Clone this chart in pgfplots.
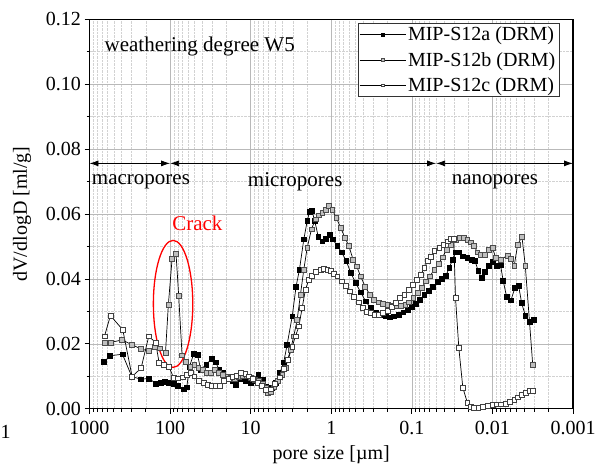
\documentclass[border=0pt]{standalone}
\usepackage{fontspec}
\setmainfont{Liberation Serif}
\usepackage{pgfplots}
\usepackage{pgfplotstable}
\pgfplotsset{compat=1.18}
\usetikzlibrary{arrows.meta}

\pgfplotstableread{
D V
658 0.0145
555 0.0163
390 0.0168
298.5 0.0099
231 0.0091
182 0.0093
151 0.0078
131 0.0080
116 0.0083
103 0.0081
91.0 0.0076
79.6 0.0070
68.4 0.0060
62.1 0.0066
57.5 0.0130
50.7 0.0170
45.7 0.0166
41.7 0.0121
35.5 0.0136
30.4 0.0154
27.2 0.0143
24.7 0.0121
22.0 0.0110
19.3 0.0099
16.9 0.0085
15.3 0.0074
13.3 0.0092
11.5 0.0085
10.0 0.0079
9.10 0.0085
8.04 0.0105
7.16 0.0090
6.52 0.0069
5.93 0.0057
5.50 0.0064
4.90 0.0079
4.33 0.0110
3.89 0.0143
3.53 0.0197
3.05 0.0285
2.73 0.0377
2.48 0.0429
2.19 0.0522
1.99 0.0578
1.86 0.0607
1.73 0.0609
1.60 0.0578
1.45 0.0530
1.29 0.0516
1.18 0.0524
1.05 0.0537
0.953 0.0522
0.841 0.0501
0.743 0.0482
0.650 0.0455
0.574 0.0419
0.498 0.0388
0.432 0.0359
0.374 0.0331
0.324 0.0310
0.281 0.0297
0.243 0.0290
0.211 0.0285
0.186 0.0282
0.166 0.0285
0.147 0.0290
0.128 0.0297
0.113 0.0305
0.100 0.0314
0.0891 0.0324
0.0794 0.0336
0.0701 0.0350
0.0621 0.0364
0.0553 0.0376
0.0479 0.0390
0.0424 0.0400
0.0378 0.0410
0.0343 0.0434
0.0312 0.0460
0.0288 0.0482
0.0261 0.0482
0.0233 0.0470
0.0205 0.0465
0.0181 0.0460
0.0165 0.0457
0.0150 0.0424
0.0136 0.0403
0.0124 0.0421
0.0112 0.0441
0.0100 0.0452
0.00891 0.0441
0.00794 0.0444
0.00736 0.0395
0.00668 0.0346
0.00590 0.0334
0.00526 0.0372
0.00473 0.0379
0.00434 0.0326
0.00391 0.0287
0.00348 0.0269
0.00310 0.0274
}\dataA

\pgfplotstableread{
D V
652 0.0204
550 0.0204
394 0.0212
296 0.0197
229 0.0184
184 0.0178
156 0.0190
133 0.0186
114 0.0173
105 0.0321
94.4 0.0462
84.3 0.0477
78.2 0.0348
71.0 0.0165
63.4 0.0145
56.2 0.0130
50.1 0.0135
44.7 0.0125
39.7 0.0121
35.5 0.0110
31.3 0.0110
27.7 0.0119
24.7 0.0110
22.0 0.0105
19.5 0.0100
17.7 0.0095
15.6 0.0092
14.0 0.0098
12.4 0.0102
11.3 0.0100
10.0 0.0095
8.83 0.0090
7.89 0.0085
7.03 0.0077
6.52 0.0064
6.10 0.0050
5.65 0.0052
5.14 0.0066
4.58 0.0085
4.05 0.0105
3.70 0.0125
3.21 0.0181
2.92 0.0223
2.65 0.0274
2.41 0.0352
2.19 0.0429
1.99 0.0496
1.76 0.0553
1.57 0.0584
1.43 0.0596
1.29 0.0604
1.18 0.0612
1.07 0.0625
0.973 0.0614
0.867 0.0589
0.766 0.0558
0.676 0.0527
0.603 0.0501
0.537 0.0460
0.484 0.0439
0.432 0.0408
0.381 0.0377
0.333 0.0352
0.294 0.0336
0.260 0.0328
0.228 0.0324
0.201 0.0321
0.177 0.0318
0.155 0.0318
0.137 0.0318
0.121 0.0321
0.108 0.0328
0.0962 0.0341
0.0849 0.0357
0.0752 0.0372
0.0670 0.0393
0.0597 0.0408
0.0527 0.0429
0.0466 0.0447
0.0415 0.0467
0.0370 0.0491
0.0332 0.0506
0.0287 0.0520
0.0256 0.0527
0.0226 0.0527
0.0205 0.0520
0.0187 0.0513
0.0169 0.0503
0.0154 0.0482
0.0140 0.0475
0.0124 0.0475
0.0110 0.0491
0.0100 0.0496
0.00908 0.0465
0.00787 0.0460
0.00649 0.0472
0.00590 0.0462
0.00536 0.0441
0.00486 0.0506
0.00430 0.0530
0.00391 0.0441
0.00316 0.0135
}\dataB

\pgfplotstableread{
D V
652 0.0223
550 0.0287
386 0.0243
296 0.0099
229 0.0125
184 0.0223
151 0.0204
137 0.0142
119 0.0135
103 0.0130
91.0 0.0096
81.1 0.0094
70.3 0.0097
62.1 0.0104
55.5 0.0111
50.1 0.0100
43.7 0.0085
37.9 0.0079
34.4 0.0074
30.4 0.0071
27.2 0.0071
24.2 0.0071
21.4 0.0085
18.9 0.0092
16.9 0.0098
15.1 0.0102
13.3 0.0110
11.7 0.0108
10.5 0.0100
9.35 0.0092
8.26 0.0081
7.23 0.0070
6.44 0.0058
5.69 0.0060
5.02 0.0078
4.40 0.0097
3.88 0.0122
3.43 0.0151
3.05 0.0192
2.78 0.0223
2.52 0.0254
2.30 0.0310
2.09 0.0367
1.90 0.0398
1.73 0.0410
1.54 0.0421
1.36 0.0429
1.23 0.0431
1.12 0.0429
1.02 0.0424
0.927 0.0416
0.841 0.0408
0.743 0.0393
0.664 0.0379
0.592 0.0362
0.522 0.0346
0.461 0.0328
0.411 0.0310
0.366 0.0300
0.324 0.0295
0.286 0.0290
0.255 0.0290
0.228 0.0295
0.201 0.0303
0.177 0.0313
0.158 0.0326
0.141 0.0341
0.124 0.0352
0.110 0.0367
0.0982 0.0382
0.0875 0.0398
0.0773 0.0413
0.0701 0.0434
0.0638 0.0455
0.0579 0.0468
0.0527 0.0486
0.0457 0.0496
0.0407 0.0506
0.0360 0.0516
0.0327 0.0524
0.0302 0.0524
0.0287 0.0341
0.0261 0.0187
0.0233 0.0065
0.0205 0.0019
0.0187 0.0006
0.0169 0.0004
0.0150 0.0004
0.0133 0.0006
0.0115 0.0008
0.0100 0.0011
0.00891 0.0014
0.00787 0.0014
0.00681 0.0016
0.00607 0.0022
0.00536 0.0027
0.00486 0.0035
0.00430 0.0042
0.00383 0.0049
0.00348 0.0056
0.00316 0.0056
}\dataC

\begin{document}
\begin{tikzpicture}
\useasboundingbox (0,0) rectangle (605pt,464pt);
\begin{axis}[
  at={(89.5pt,55.3pt)}, anchor=south west,
  scale only axis, width=483.5pt, height=389.4pt,
  xmode=log, x dir=reverse, xmin=0.001, xmax=1000,
  ymin=0, ymax=0.12,
  xtick={1000,100,10,1,0.1,0.01,0.001},
  xticklabels={1000,100,10,1,0.1,0.01,0.001},
  minor xtick={0.002,0.003,0.004,0.005,0.006,0.007,0.008,0.009,
    0.02,0.03,0.04,0.05,0.06,0.07,0.08,0.09,
    0.2,0.3,0.4,0.5,0.6,0.7,0.8,0.9,
    2,3,4,5,6,7,8,9,20,30,40,50,60,70,80,90,
    200,300,400,500,600,700,800,900},
  ytick={0,0.02,0.04,0.06,0.08,0.10,0.12},
  minor ytick={0.01,0.03,0.05,0.07,0.09,0.11},
  scaled y ticks=false,
  /pgf/number format/assume math mode=true,
  yticklabel style={/pgf/number format/fixed, /pgf/number format/fixed zerofill, /pgf/number format/precision=2},
  xticklabel style={yshift=-4pt},
  tick label style={font=\fontsize{20}{24}\selectfont},
  label style={font=\fontsize{20}{24}\selectfont},
  xlabel={pore size [µm]},
  ylabel={dV/dlogD [ml/g]},
  xlabel style={at={(axis description cs:0.5,-0.119)}, anchor=center},
  ylabel style={at={(axis description cs:-0.1396,0.5)}, anchor=center},
  tick pos=left, tick align=outside,
  major tick length=5pt, minor tick length=3pt,
  grid=both,
  major grid style={gray!55, line width=0.6pt},
  minor grid style={gray!35, densely dotted, line width=0.5pt},
  axis line style={line width=1.2pt},
  every tick/.style={black, line width=0.8pt},
  legend style={at={(0.971,0.990)}, anchor=north east, draw=gray!40!black,
    font=\fontsize{20}{24}\selectfont, cells={anchor=west}, inner sep=1.5pt, row sep=6pt},
  legend image code/.code={\draw[#1, mark repeat=2, mark phase=2, mark size=1.4pt] plot coordinates {(0pt,0pt) (23pt,0pt) (46pt,0pt)};},
]
\addplot[black, line width=0.7pt, mark=square*, mark size=2.4pt,
  mark options={fill=black, draw=black, line width=0.5pt, solid}] table {\dataA};
\addlegendentry{MIP-S12a (DRM)}
\addplot[black, line width=0.7pt, mark=square*, mark size=2.4pt,
  mark options={fill=gray!50, draw=gray!60!black, line width=0.5pt, solid}] table {\dataB};
\addlegendentry{MIP-S12b (DRM)}
\addplot[black, line width=0.7pt, mark=square*, mark size=2.4pt,
  mark options={fill=white, draw=gray!50!black, line width=0.5pt, solid}] table {\dataC};
\addlegendentry{MIP-S12c (DRM)}

\draw[{Latex[length=9pt,width=6pt]}-{Latex[length=9pt,width=6pt]}, line width=0.8pt] (axis cs:1000,0.0756) -- (axis cs:100,0.0756);
\draw[{Latex[length=9pt,width=6pt]}-{Latex[length=9pt,width=6pt]}, line width=0.8pt] (axis cs:100,0.0756) -- (axis cs:0.05,0.0756);
\draw[{Latex[length=9pt,width=6pt]}-{Latex[length=9pt,width=6pt]}, line width=0.8pt] (axis cs:0.05,0.0756) -- (axis cs:0.001,0.0756);

\node[anchor=west, inner sep=0pt, font=\fontsize{21}{25}\selectfont] at (axis cs:652,0.1117) {weathering degree W5};
\node[inner sep=0pt, font=\fontsize{21}{25}\selectfont] at (axis cs:230,0.0700) {macropores};
\node[inner sep=0pt, font=\fontsize{21}{25}\selectfont] at (axis cs:2.80,0.0700) {micropores};
\node[inner sep=0pt, font=\fontsize{21}{25}\selectfont] at (axis cs:0.0093,0.0700) {nanopores};
\node[inner sep=0pt, text=red, font=\fontsize{21}{25}\selectfont] at (axis cs:45.9,0.0571) {Crack};
\draw[red, line width=1.3pt] (axis cs:91.8,0.0323) ellipse [x radius=19.7pt, y radius=63.5pt];
\end{axis}
\node[anchor=west, inner sep=0pt, font=\fontsize{20}{24}\selectfont] at (0.5pt,32pt) {1};
\end{tikzpicture}
\end{document}
